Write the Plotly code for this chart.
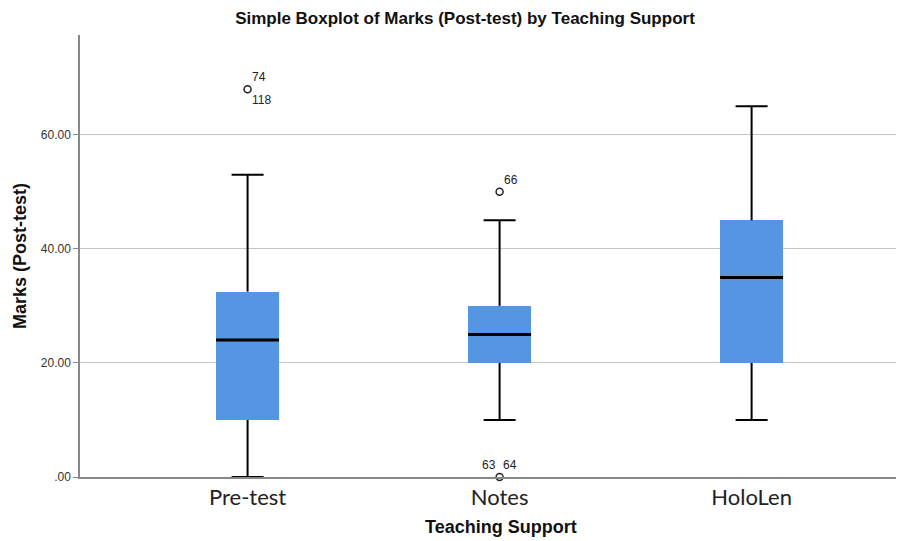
import plotly.graph_objects as go

categories = ["Pre-test", "Notes", "HoloLen"]
q1 = [10, 20, 20]
median = [24, 25, 35]
q3 = [32.5, 30, 45]
lower_whisker = [0, 10, 10]
upper_whisker = [53, 45, 65]

# outliers: (category index, value, case labels)
outlier_cat = [0, 1, 1]
outlier_val = [68, 50, 0]
outlier_labels = [["74", "118"], ["66"], ["63", "64"]]

y_ticks = [0, 20, 40, 60]
y_ticktext = [".00", "20.00", "40.00", "60.00"]

BLUE = "#5596E3"
pos = list(range(len(categories)))
box_w = 0.25
cap_w = 0.127

fig = go.Figure()

fig.add_trace(go.Bar(
    x=pos, y=[b - a for a, b in zip(q1, q3)], base=q1, width=box_w,
    marker=dict(color=BLUE, line=dict(width=0)), hoverinfo="skip", showlegend=False))

wx, wy = [], []
for p, a, b, lo, hi in zip(pos, q1, q3, lower_whisker, upper_whisker):
    wx += [p, p, None, p, p, None]
    wy += [b, hi, None, a, lo, None]
    wx += [p - cap_w / 2, p + cap_w / 2, None, p - cap_w / 2, p + cap_w / 2, None]
    wy += [hi, hi, None, lo, lo, None]
fig.add_trace(go.Scatter(x=wx, y=wy, mode="lines", line=dict(color="black", width=2),
                         cliponaxis=False, hoverinfo="skip", showlegend=False))

mx, my = [], []
for p, m in zip(pos, median):
    mx += [p - box_w / 2, p + box_w / 2, None]
    my += [m, m, None]
fig.add_trace(go.Scatter(x=mx, y=my, mode="lines", line=dict(color="black", width=3),
                         hoverinfo="skip", showlegend=False))

fig.add_trace(go.Scatter(
    x=outlier_cat, y=outlier_val, mode="markers", cliponaxis=False,
    marker=dict(symbol="circle-open", size=7, color="#222", line=dict(width=1.5)),
    hoverinfo="skip", showlegend=False))

for c, v, labs in zip(outlier_cat, outlier_val, outlier_labels):
    if len(labs) == 2 and v > 0:
        offs = [(11, 12), (14, -11)]
    elif len(labs) == 2:
        offs = [(-11, 12), (10, 12)]
    else:
        offs = [(11, 12)]
    for lab, (dx, dy) in zip(labs, offs):
        fig.add_annotation(x=c, y=v, text=lab, showarrow=False, xshift=dx, yshift=dy,
                           font=dict(family="Liberation Sans, Arial", size=12, color="#222"))

fig.add_annotation(text="<b>Teaching Support</b>", xref="paper", yref="paper",
                   x=0.516, y=0, xanchor="center", yanchor="middle", yshift=-50,
                   showarrow=False,
                   font=dict(family="Liberation Sans, Arial", size=18, color="#111"))

fig.update_layout(
    width=888, height=533,
    margin=dict(l=72, r=0, t=27, b=64),
    paper_bgcolor="white", plot_bgcolor="white",
    title=dict(text="<b>Simple Boxplot of Marks (Post-test) by Teaching Support</b>",
               x=0.5146, xref="container", xanchor="center",
               y=1, yref="container", yanchor="middle", pad=dict(t=0), automargin=False),
    xaxis=dict(range=[-0.665, 2.573], tickmode="array", tickvals=pos, ticktext=categories,
               showgrid=False, zeroline=False, showline=True, linecolor="#888", linewidth=2,
               ticks="", automargin=False,
               tickfont=dict(family="Lato, Noto Sans", size=22, color="#222")),
    yaxis=dict(range=[0, 77.5], tickmode="array", tickvals=y_ticks, ticktext=y_ticktext,
               showgrid=True, gridcolor="#c4c4c4", gridwidth=1, zeroline=False,
               showline=True, linecolor="#888", linewidth=1.5, ticks="outside", ticklen=5,
               tickcolor="#888", automargin=False,
               tickfont=dict(family="Liberation Sans, Arial", size=12, color="#333"),
               title=dict(text="<b>Marks (Post-test)</b>", standoff=10,
                          font=dict(family="Liberation Sans, Arial", size=18, color="#111"))),
    bargap=0,
)
fig.update_layout(title_y=0.981, title_font=dict(family="Liberation Sans, Arial", size=17, color="#111"))

fig.write_html("out.html")
